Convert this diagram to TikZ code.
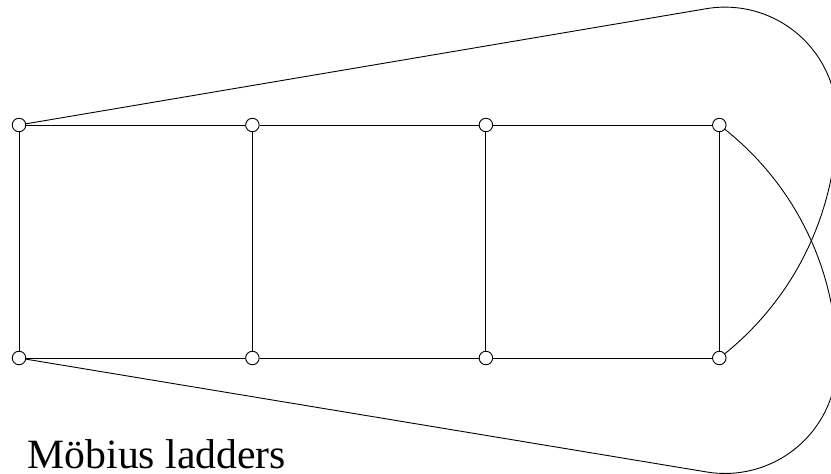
\documentclass[tikz,border=0pt]{standalone}
\usepackage{fontspec}
\setmainfont{Liberation Serif}
\usetikzlibrary{backgrounds}
\begin{document}
\begin{tikzpicture}[x=1pt,y=1pt,
  vtx/.style={circle,draw=black,fill=white,line width=0.9pt,minimum size=13.5pt,inner sep=0pt},
  edge/.style={draw=black,line width=0.9pt}]
\useasboundingbox (0,0) rectangle (831,474);
\clip (0,0) rectangle (831,474);
% vertices
\node[vtx] (t1) at (19,349) {};
\node[vtx] (t2) at (252.4,349) {};
\node[vtx] (t3) at (485.9,349) {};
\node[vtx] (t4) at (719.3,349) {};
\node[vtx] (b1) at (19,116) {};
\node[vtx] (b2) at (252.4,116) {};
\node[vtx] (b3) at (485.9,116) {};
\node[vtx] (b4) at (719.3,116) {};
\coordinate (ta) at (706.3,465.3);
\coordinate (ba) at (706.7,2.0);
\begin{pgfonlayer}{background}
\path[edge] (t1) -- (t2) -- (t3) -- (t4);
\path[edge] (b1) -- (b2) -- (b3) -- (b4);
\path[edge] (t1) -- (b1);
\path[edge] (t2) -- (b2);
\path[edge] (t3) -- (b3);
\path[edge] (t4) -- (b4);
% Moebius twist edges
\path[edge] (t1) -- (ta) arc[start angle=99.6, end angle=0, radius=112]
  arc[start angle=0, end angle=-52.4, radius=301.5];
\path[edge] (t4.center) arc[start angle=52.9, end angle=0, radius=296.5]
  arc[start angle=0, end angle=-99.4, radius=112] -- (b1);
\end{pgfonlayer}
\node[anchor=base west,inner sep=0pt,font=\fontsize{41.7}{45}\selectfont] (lbl) at (27.5,5) {Möbius ladders};
\end{tikzpicture}
\end{document}
